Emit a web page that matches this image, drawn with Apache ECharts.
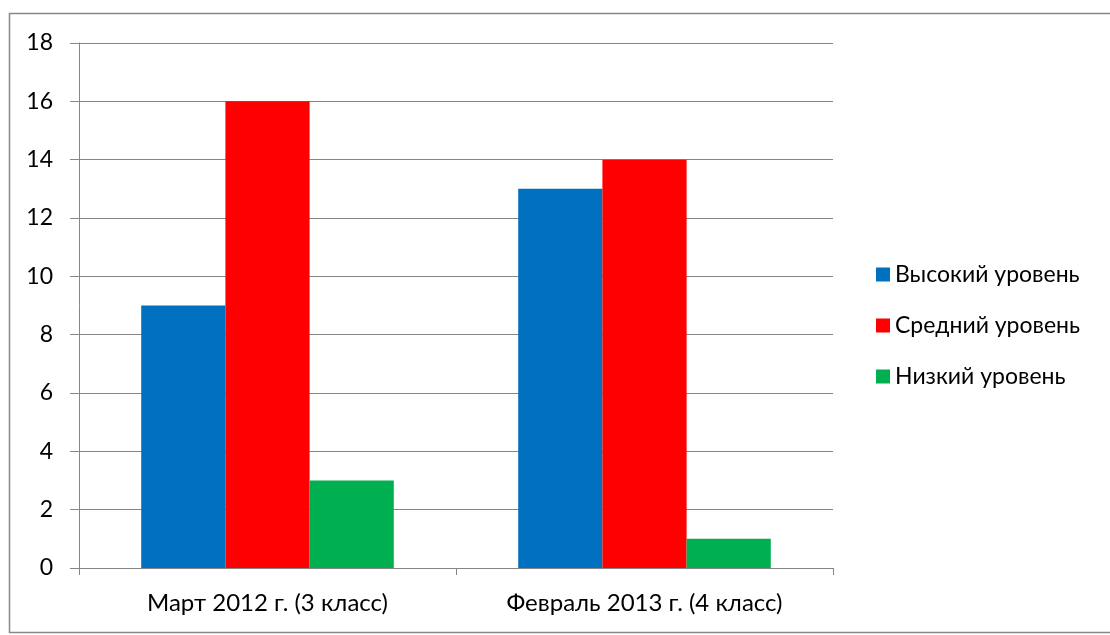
<!DOCTYPE html>
<html><head><meta charset="utf-8">
<script src="https://cdn.jsdelivr.net/npm/echarts@6/dist/echarts.min.js"></script>
<style>html,body{margin:0;padding:0;background:#fff}#c{width:1110px;height:635px}</style>
</head><body><div id="c"></div>
<script>
const categories = ['Март 2012 г. (3 класс)', 'Февраль 2013 г. (4 класс)'];
const seriesNames = ['Высокий уровень', 'Средний уровень', 'Низкий уровень'];
const high = [9, 13];
const mid = [16, 14];
const low = [3, 1];
const colors = ['#0070C0', '#FF0000', '#00B050'];
const font = 'Lato';
const chart = echarts.init(document.getElementById('c'));
chart.setOption({
  animation: false,
  color: colors,
  graphic: [{type:'rect', shape:{x:9.5,y:13.5,width:1200,height:619}, style:{fill:'none',stroke:'#888',lineWidth:1.5}, silent:true}],
  grid: {left: 79, right: 277, top: 43, bottom: 67, containLabel: false},
  legend: {
    orient: 'vertical', left: 871, top: 258, itemWidth: 14, itemHeight: 14, itemGap: 28,
    icon: 'rect',
    textStyle: {fontFamily: font, fontSize: 23, color: '#000', padding:[0,0,0,0]},
    data: seriesNames
  },
  xAxis: {
    type: 'category', data: categories,
    axisLine: {lineStyle: {color: '#868686', width: 1}},
    axisTick: {show: true, length: 7, lineStyle: {color: '#868686'}},
    axisLabel: {fontFamily: font, fontSize: 24, color: '#000', margin: 23}
  },
  yAxis: {
    type: 'value', min: 0, max: 18, interval: 2,
    axisLine: {show: true, lineStyle: {color: '#868686'}},
    axisTick: {show: true, length: 9, lineStyle: {color: '#868686'}},
    splitLine: {lineStyle: {color: '#868686'}},
    axisLabel: {fontFamily: font, fontSize: 23, color: '#000', margin: 26}
  },
  series: [
    {name: seriesNames[0], type: 'bar', data: high, barGap: '0%', barCategoryGap: '33%'},
    {name: seriesNames[1], type: 'bar', data: mid, barGap: '0%', barCategoryGap: '33%'},
    {name: seriesNames[2], type: 'bar', data: low, barGap: '0%', barCategoryGap: '33%'}
  ]
});
</script></body></html>
